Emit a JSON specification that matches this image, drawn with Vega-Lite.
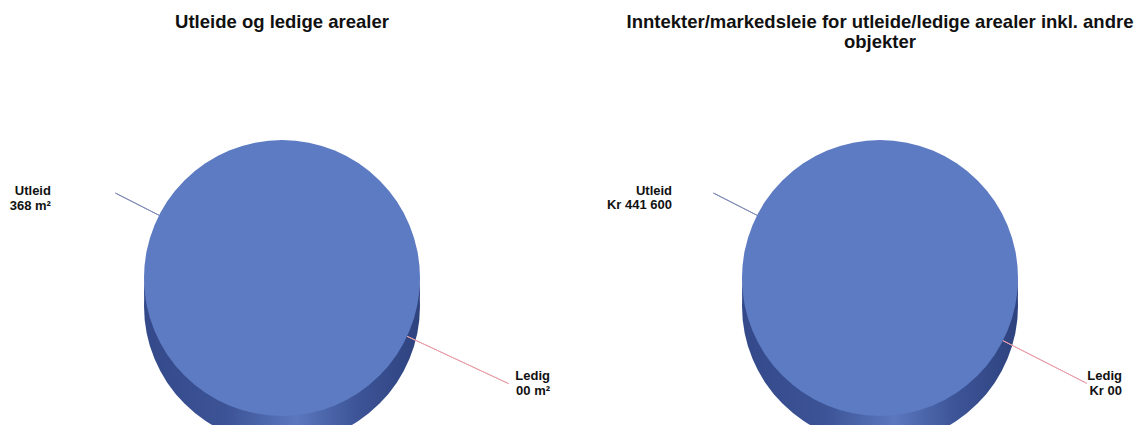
{
  "$schema": "https://vega.github.io/schema/vega-lite/v6.json",
  "background": "white",
  "padding": {"left": 5, "right": 5, "top": 12, "bottom": 0},
  "spacing": 71,
  "bounds": "flush",
  "config": {
    "view": {"stroke": null},
    "title": {"font": "Liberation Sans", "fontSize": 18.5, "fontWeight": "bold", "color": "#111111", "anchor": "middle", "lineHeight": 20, "offset": 80}
  },
  "hconcat": [
    {
      "width": 554,
      "height": 294,
      "title": {"text": "Utleide og ledige arealer", "dy": -20},
      "data": {"values": [
        {"kategori": "Utleid", "verdi": 368, "etikett": "Utleid\n368 m²"},
        {"kategori": "Ledig", "verdi": 0, "etikett": "Ledig\n00 m²"}
      ]},
      "layer": [
        {
          "mark": {"type": "arc", "radius": 138, "yOffset": 28, "clip": true,
            "color": {"gradient": "linear", "x1": 0, "x2": 1, "y1": 0, "y2": 0, "stops": [
              {"offset": 0, "color": "#33498a"}, {"offset": 0.3, "color": "#3c5396"}, {"offset": 0.55, "color": "#5b77be"}, {"offset": 0.78, "color": "#3c5396"}, {"offset": 1, "color": "#2e427e"}]}},
          "encoding": {"theta": {"field": "verdi", "type": "quantitative", "stack": true}}
        },
        {
          "mark": {"type": "arc", "radius": 138, "yOffset": 14, "clip": true,
            "color": {"gradient": "linear", "x1": 0, "x2": 1, "y1": 0, "y2": 0, "stops": [
              {"offset": 0, "color": "#33498a"}, {"offset": 0.3, "color": "#3c5396"}, {"offset": 0.55, "color": "#5b77be"}, {"offset": 0.78, "color": "#3c5396"}, {"offset": 1, "color": "#2e427e"}]}},
          "encoding": {"theta": {"field": "verdi", "type": "quantitative", "stack": true}}
        },
        {
          "mark": {"type": "arc", "radius": 138},
          "encoding": {
            "theta": {"field": "verdi", "type": "quantitative", "stack": true},
            "color": {"field": "kategori", "type": "nominal", "scale": {"domain": ["Utleid", "Ledig"], "range": ["#5d7bc2", "#c0504d"]}, "legend": null}
          }
        },
        {
          "mark": {"type": "arc", "radius2": 138, "filled": false, "strokeWidth": 1},
          "encoding": {
            "theta": {"field": "verdi", "type": "quantitative", "stack": null, "scale": {"zero": true, "range": [2.007, 5.184]}},
            "theta2": {"field": "verdi"},
            "radius": {"field": "verdi", "type": "quantitative", "scale": {"type": "linear", "zero": true, "range": [250, 187]}},
            "stroke": {"field": "kategori", "type": "nominal", "scale": {"domain": ["Utleid", "Ledig"], "range": ["#7f8cb6", "#e8a0aa"]}, "legend": null}
          }
        },
        {
          "mark": {"type": "text", "align": "right", "baseline": "middle", "lineBreak": "\n", "font": "Liberation Sans", "fontSize": 13, "fontWeight": "bold", "lineHeight": 14.5, "dy": -6, "color": "#111111"},
          "encoding": {
            "theta": {"field": "verdi", "type": "quantitative", "stack": null, "scale": {"zero": true, "range": [1.941, 5.049]}},
            "radius": {"field": "verdi", "type": "quantitative", "scale": {"type": "linear", "zero": true, "range": [287.5, 244.8]}},
            "text": {"field": "etikett", "type": "nominal"}
          }
        }
      ],
      "resolve": {"scale": {"theta": "independent", "radius": "independent", "color": "independent", "stroke": "independent"}}
    },
    {
      "width": 500,
      "height": 294,
      "title": {"text": ["Inntekter/markedsleie for utleide/ledige arealer inkl. andre", "objekter"]},
      "data": {"values": [
        {"kategori": "Utleid", "verdi": 441600, "etikett": "Utleid\nKr 441 600"},
        {"kategori": "Ledig", "verdi": 0, "etikett": "Ledig\nKr 00"}
      ]},
      "layer": [
        {
          "mark": {"type": "arc", "radius": 138, "yOffset": 28, "clip": true,
            "color": {"gradient": "linear", "x1": 0, "x2": 1, "y1": 0, "y2": 0, "stops": [
              {"offset": 0, "color": "#33498a"}, {"offset": 0.3, "color": "#3c5396"}, {"offset": 0.55, "color": "#5b77be"}, {"offset": 0.78, "color": "#3c5396"}, {"offset": 1, "color": "#2e427e"}]}},
          "encoding": {"theta": {"field": "verdi", "type": "quantitative", "stack": true}}
        },
        {
          "mark": {"type": "arc", "radius": 138, "yOffset": 14, "clip": true,
            "color": {"gradient": "linear", "x1": 0, "x2": 1, "y1": 0, "y2": 0, "stops": [
              {"offset": 0, "color": "#33498a"}, {"offset": 0.3, "color": "#3c5396"}, {"offset": 0.55, "color": "#5b77be"}, {"offset": 0.78, "color": "#3c5396"}, {"offset": 1, "color": "#2e427e"}]}},
          "encoding": {"theta": {"field": "verdi", "type": "quantitative", "stack": true}}
        },
        {
          "mark": {"type": "arc", "radius": 138},
          "encoding": {
            "theta": {"field": "verdi", "type": "quantitative", "stack": true},
            "color": {"field": "kategori", "type": "nominal", "scale": {"domain": ["Utleid", "Ledig"], "range": ["#5d7bc2", "#c0504d"]}, "legend": null}
          }
        },
        {
          "mark": {"type": "arc", "radius2": 138, "filled": false, "strokeWidth": 1},
          "encoding": {
            "theta": {"field": "verdi", "type": "quantitative", "stack": null, "scale": {"zero": true, "range": [2.042, 5.184]}},
            "theta2": {"field": "verdi"},
            "radius": {"field": "verdi", "type": "quantitative", "scale": {"type": "linear", "zero": true, "range": [232, 187]}},
            "stroke": {"field": "kategori", "type": "nominal", "scale": {"domain": ["Utleid", "Ledig"], "range": ["#7f8cb6", "#e8a0aa"]}, "legend": null}
          }
        },
        {
          "mark": {"type": "text", "align": "right", "baseline": "middle", "lineBreak": "\n", "font": "Liberation Sans", "fontSize": 13, "fontWeight": "bold", "lineHeight": 14.5, "dy": -6, "color": "#111111"},
          "encoding": {
            "theta": {"field": "verdi", "type": "quantitative", "stack": null, "scale": {"zero": true, "range": [1.977, 5.084]}},
            "radius": {"field": "verdi", "type": "quantitative", "scale": {"type": "linear", "zero": true, "range": [263.4, 223.2]}},
            "text": {"field": "etikett", "type": "nominal"}
          }
        }
      ],
      "resolve": {"scale": {"theta": "independent", "radius": "independent", "color": "independent", "stroke": "independent"}}
    }
  ]
}
